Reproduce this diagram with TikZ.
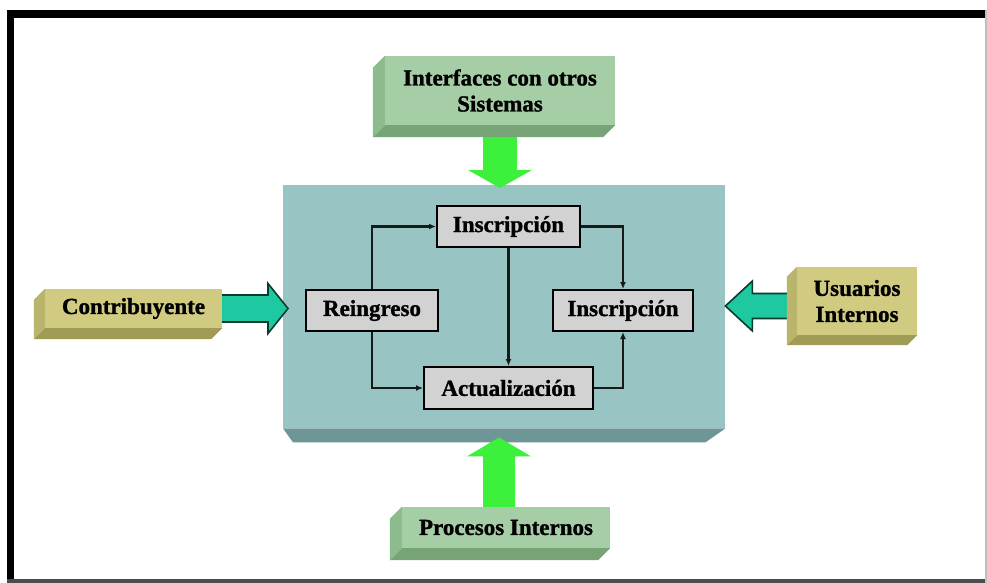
\documentclass[tikz,border=0pt]{standalone}
\usepackage{fontspec}
\setmainfont{Liberation Serif}
\newfontfamily\heavyfont{Liberation Serif Bold}[FakeBold=1.2]
\usetikzlibrary{calc,arrows.meta}
\definecolor{mainface}{RGB}{153,196,196}
\definecolor{mainband}{RGB}{110,150,150}
\definecolor{gface}{RGB}{166,206,166}
\definecolor{gside}{RGB}{140,188,140}
\definecolor{gbottom}{RGB}{118,164,118}
\definecolor{oface}{RGB}{208,203,128}
\definecolor{oside}{RGB}{186,181,108}
\definecolor{obottom}{RGB}{160,155,85}
\definecolor{brightgreen}{RGB}{60,240,60}
\definecolor{tealarrow}{RGB}{30,200,160}
\definecolor{tealdark}{RGB}{10,60,45}
\definecolor{inboxgray}{RGB}{210,210,210}
\pgfdeclarelayer{bg}
\pgfdeclarelayer{mid}
\pgfsetlayers{bg,mid,main}
\newcommand{\extrudebox}[4]{%
  \fill[#2] (#1.north west) -- ($(#1.north west)+(-#4,#4)$) -- ($(#1.south west)+(-#4,#4)$) -- (#1.south west) -- cycle;
  \fill[#3] (#1.south west) -- ($(#1.south west)+(-#4,#4)$) -- ($(#1.south east)+(-#4,#4)$) -- (#1.south east) -- cycle;
}
\begin{document}
\begin{tikzpicture}[x=1pt,y=-1pt,
  lbl/.style={font=\fontsize{23}{26}\heavyfont},
  inbox/.style={lbl, draw=black, line width=2pt, fill=inboxgray, inner sep=0pt},
  gbox/.style={lbl, fill=gface, inner sep=0pt, align=center},
  obox/.style={lbl, fill=oface, inner sep=0pt, align=center},
  conn/.style={draw=black!90, line width=2.4pt, -{Latex[length=7pt,width=6pt]}},
  garrow/.style={fill=brightgreen},
  tarrow/.style={fill=tealarrow, draw=tealdark, line width=1.6pt, line join=miter}]
\useasboundingbox (0,0) rectangle (987,583);
% main box
\begin{pgfonlayer}{bg}
\fill[white] (0,0) rectangle (987,583);
\node[fill=mainface, minimum width=442, minimum height=243, anchor=north west, inner sep=0pt] (main) at (283,185) {};
\fill[mainband] (main.south west) -- (main.south east) -- ($(main.south east)+(-20,14)$) -- ($(main.south west)+(10,14)$) -- cycle;
\end{pgfonlayer}
% frame
\fill[black] (7,10) rectangle (987,18);
\fill[black] (7,10) rectangle (14,583);
\fill[black!70] (7,579) rectangle (987,583);
\fill[black!25] (985,10) rectangle (987,583);

% inner boxes
\node[inbox, minimum width=143, minimum height=41] (ins1) at (508.5,226.5) {Inscripción};
\node[inbox, minimum width=132, minimum height=41] (rein) at (372,310.5) {Reingreso};
\node[inbox, minimum width=140, minimum height=41] (ins2) at (623,310.5) {Inscripción};
\node[inbox, minimum width=169, minimum height=42] (act) at (508.5,388) {Actualización};

\draw[conn] (rein.north) |- (ins1.west);
\draw[conn] (rein.south) |- (act.west);
\draw[conn] (ins1.south) -- (ins1.south |- act.north);
\draw[conn] (ins1.east) -| (ins2.north);
\draw[conn] (act.east) -| (ins2.south);

% outer 3D boxes
\node[gbox, minimum width=230, minimum height=69] (top) at (500,90.5) {Interfaces con otros\\Sistemas};
\extrudebox{top}{gside}{gbottom}{12}
\node[obox, minimum width=177, minimum height=39] (contrib) at (133.5,308.5) {Contribuyente};
\extrudebox{contrib}{oside}{obottom}{11}
\node[obox, minimum width=120, minimum height=68] (usr) at (857,301) {Usuarios\\Internos};
\extrudebox{usr}{oside}{obottom}{10}
\node[gbox, minimum width=208, minimum height=41] (proc) at (506,527.5) {Procesos Internos};
\extrudebox{proc}{gside}{gbottom}{12}

% big arrows
\begin{pgfonlayer}{mid}
% top down arrow
\coordinate (ta) at (top.south);
\coordinate (tb) at ($(main.north -| top.south)+(0,3)$);
\fill[garrow] ($(ta)+(-17,0)$) -- ($(ta)+(17,0)$) -- ($(tb)+(17,-18)$) -- ($(tb)+(32,-18)$) -- (tb) -- ($(tb)+(-32,-18)$) -- ($(tb)+(-17,-18)$) -- cycle;
% bottom up arrow
\coordinate (ba) at ($(proc.north)+(-7,0)$);
\coordinate (bb) at ($(main.south -| ba)+(0,9)$);
\fill[garrow] ($(ba)+(-16,0)$) -- ($(ba)+(16,0)$) -- ($(bb)+(16,19)$) -- ($(bb)+(32,19)$) -- (bb) -- ($(bb)+(-32,19)$) -- ($(bb)+(-16,19)$) -- cycle;
% left arrow
\coordinate (la) at (contrib.east);
\coordinate (lb) at ($(main.west |- contrib.east)+(5,0)$);
\draw[tarrow] ($(la)+(0,-13.5)$) -- ($(lb)+(-20,-13.5)$) -- ($(lb)+(-20,-25)$) -- (lb) -- ($(lb)+(-20,25)$) -- ($(lb)+(-20,13.5)$) -- ($(la)+(0,13.5)$);
% right arrow
\coordinate (ra) at ($(usr.west)+(-9,5)$);
\coordinate (rb) at ($(main.east |- usr.west)+(0,5)$);
\draw[tarrow] ($(ra)+(0,-12.5)$) -- ($(rb)+(27,-12.5)$) -- ($(rb)+(27,-25)$) -- (rb) -- ($(rb)+(27,25)$) -- ($(rb)+(27,12.5)$) -- ($(ra)+(0,12.5)$);
\end{pgfonlayer}
\end{tikzpicture}
\end{document}
